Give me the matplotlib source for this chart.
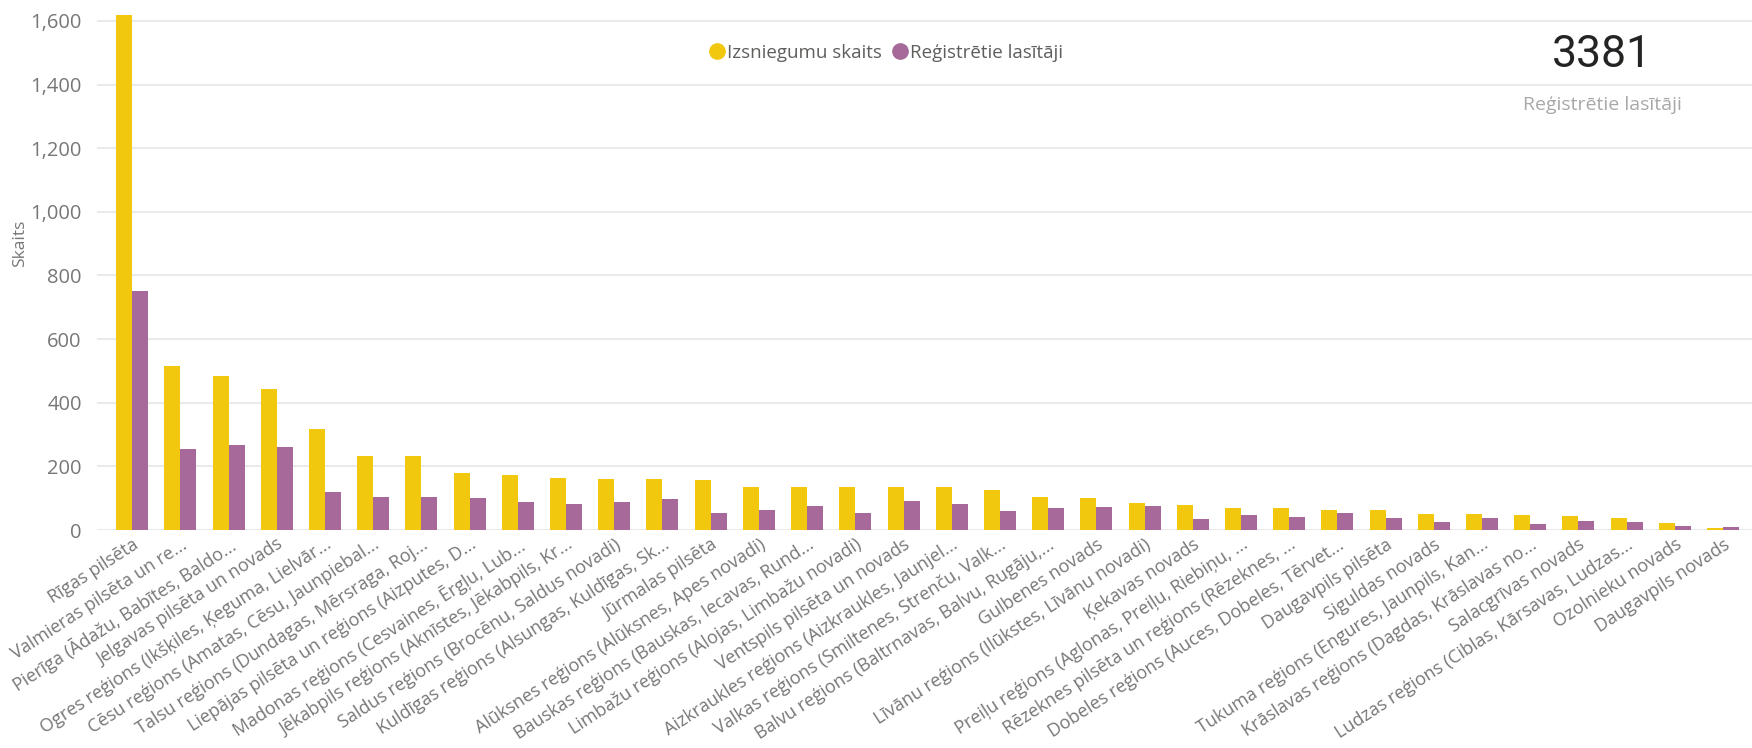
import matplotlib
matplotlib.use("Agg")
import matplotlib.pyplot as plt
from matplotlib.lines import Line2D
from matplotlib.ticker import FuncFormatter
import numpy as np

plt.rcParams['font.family'] = ['Open Sans', 'DejaVu Sans']

# data
regions = [
    "Rīgas pilsēta",
    "Valmieras pilsēta un re...",
    "Pierīga (Ādažu, Babītes, Baldo...",
    "Jelgavas pilsēta un novads",
    "Ogres reģions (Ikšķiles, Ķeguma, Lielvār...",
    "Cēsu reģions (Amatas, Cēsu, Jaunpiebal...",
    "Talsu reģions (Dundagas, Mērsraga, Roj...",
    "Liepājas pilsēta un reģions (Aizputes, D...",
    "Madonas reģions (Cesvaines, Ērgļu, Lub...",
    "Jēkabpils reģions (Aknīstes, Jēkabpils, Kr...",
    "Saldus reģions (Brocēnu, Saldus novadi)",
    "Kuldīgas reģions (Alsungas, Kuldīgas, Sk...",
    "Jūrmalas pilsēta",
    "Alūksnes reģions (Alūksnes, Apes novadi)",
    "Bauskas reģions (Bauskas, Iecavas, Rund...",
    "Limbažu reģions (Alojas, Limbažu novadi)",
    "Ventspils pilsēta un novads",
    "Aizkraukles reģions (Aizkraukles, Jaunjel...",
    "Valkas reģions (Smiltenes, Strenču, Valk...",
    "Balvu reģions (Baltrnavas, Balvu, Rugāju,...",
    "Gulbenes novads",
    "Līvānu reģions (Ilūkstes, Līvānu novadi)",
    "Ķekavas novads",
    "Preiļu reģions (Aglonas, Preiļu, Riebiņu, ...",
    "Rēzeknes pilsēta un reģions (Rēzeknes, ...",
    "Dobeles reģions (Auces, Dobeles, Tērvet...",
    "Daugavpils pilsēta",
    "Siguldas novads",
    "Tukuma reģions (Engures, Jaunpils, Kan...",
    "Krāslavas reģions (Dagdas, Krāslavas no...",
    "Salacgrīvas novads",
    "Ludzas reģions (Ciblas, Kārsavas, Ludzas...",
    "Ozolnieku novads",
    "Daugavpils novads",
]
izsniegumi = [1617, 516, 484, 442, 318, 232, 232, 179, 173, 165, 161, 160,
              158, 135, 135, 136, 136, 134, 127, 105, 101, 85, 78, 69, 69,
              64, 63, 49, 49, 47, 45, 37, 21, 7]
lasitaji = [750, 256, 266, 262, 119, 104, 104, 100, 87, 83, 88, 97,
            54, 64, 74, 52, 91, 82, 60, 68, 72, 74, 35, 48, 42,
            55, 37, 25, 37, 20, 29, 24, 14, 8]
total_readers = 3381

yellow = "#F2C80F"
purple = "#A66999"

fig = plt.figure(figsize=(17.52, 7.48), dpi=100)
ax = fig.add_axes([97 / 1752, 1 - 530 / 748, 1 - 97 / 1752, 525 / 748])

x = np.arange(len(regions))
w = 0.332
ax.bar(x - w / 2, izsniegumi, w, color=yellow, zorder=3)
ax.bar(x + w / 2, lasitaji, w, color=purple, zorder=3)

ax.set_xlim(-0.73, len(regions) - 1 + 0.6)
ax.set_ylim(0, 1650)
ax.set_yticks(range(0, 1601, 200))
ax.yaxis.set_major_formatter(FuncFormatter(lambda v, p: f"{int(v):,}"))
ax.grid(axis="y", color="#EAEAEA", linewidth=1.5, zorder=0)
for s in ax.spines.values():
    s.set_visible(False)
ax.tick_params(axis="y", length=0, pad=11, labelsize=14.5, labelcolor="#777777")
ax.tick_params(axis="x", length=0, pad=4)
ax.set_xticks(x)
ax.set_xticklabels(regions, rotation=33, ha="right", va="top",
                   rotation_mode="anchor", fontsize=13, color="#777777")

# y axis title
fig.text(20 / 1752, 1 - 243 / 748, "Skaits", rotation=90, fontsize=12.5,
         color="#777777", ha="center", va="center")

# legend with round markers
handles = [Line2D([], [], marker="o", linestyle="", color=yellow, markersize=11),
           Line2D([], [], marker="o", linestyle="", color=purple, markersize=11)]
fig.legend(handles, ["Izsniegumu skaits", "Reģistrētie lasītāji"], loc="center",
           bbox_to_anchor=(887 / 1752, 1 - 53 / 748), ncol=2, frameon=False,
           fontsize=13.5, handlelength=0.7, handletextpad=0.2, columnspacing=0.6,
           labelcolor="#605E5C")

# card
fig.text(1602 / 1752, 1 - 55 / 748, f"{total_readers}", fontsize=32, color="#252423",
         ha="center", va="center", family=["Roboto", "DejaVu Sans"])
fig.text(1602 / 1752, 1 - 105 / 748, "Reģistrētie lasītāji", fontsize=14,
         color="#A8A8A8", ha="center", va="center")

fig.savefig("out.png", dpi=100)
